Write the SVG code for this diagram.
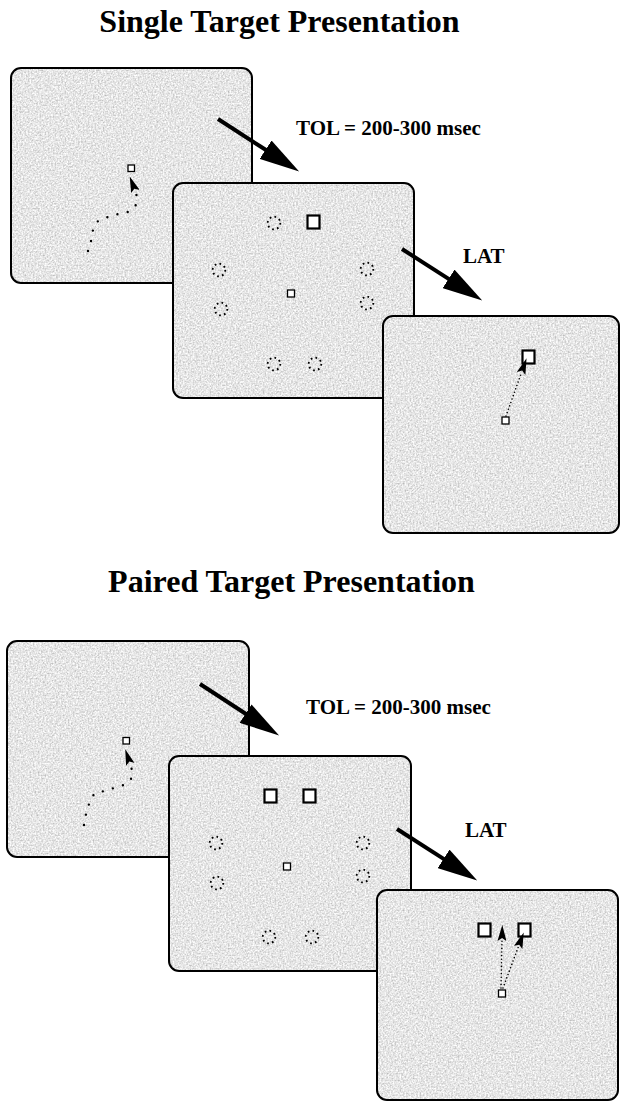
<svg xmlns="http://www.w3.org/2000/svg" width="620" height="1101" viewBox="0 0 620 1101">
<style>
  .title{font-family:"Liberation Serif","Times New Roman",serif;font-weight:bold;font-size:32px;fill:#000;text-anchor:middle}
  .lbl{font-family:"Liberation Serif","Times New Roman",serif;font-weight:bold;font-size:21px;fill:#000}
  .bg{fill:#cfcfcf;filter:url(#tex)}
  .frame{fill:none;stroke:#000;stroke-width:2}
  .fix{fill:#fff;stroke:#000;stroke-width:1.3}
  .tgt{fill:#fff;stroke:#000;stroke-width:2.2}
  .dis{fill:none;stroke:#000;stroke-width:1.8;stroke-dasharray:1.7 3.2}
  .big{stroke:#000;stroke-width:4;fill:none;marker-end:url(#bighead)}
  .sparse{stroke:#000;stroke-width:2.4;fill:none;stroke-linecap:round;stroke-dasharray:0 10.5;marker-end:url(#smallhead)}
  .dense{stroke:#000;stroke-width:1.6;fill:none;stroke-linecap:round;stroke-dasharray:0 3.6;marker-end:url(#smallhead)}
</style>
<defs>
  <filter id="tex" x="0" y="0" width="1" height="1" filterUnits="objectBoundingBox">
    <feTurbulence type="fractalNoise" baseFrequency="0.6" numOctaves="2" seed="4" result="n"/>
    <feColorMatrix in="n" type="matrix" values="0.8 0 0 0 0.39  0.8 0 0 0 0.39  0.8 0 0 0 0.39  0 0 0 0 1" result="g"/>
    <feComposite in="g" in2="SourceGraphic" operator="in"/>
  </filter>
  <marker id="bighead" viewBox="0 -11 40 22" markerWidth="40" markerHeight="22" refX="1" refY="0" markerUnits="userSpaceOnUse" orient="auto">
    <path d="M0,-11 L40,0 L0,11 z" fill="#000"/>
  </marker>
  <marker id="smallhead" viewBox="0 -4.5 16 9" markerWidth="16" markerHeight="9" refX="1" refY="0" markerUnits="userSpaceOnUse" orient="auto">
    <path d="M0,-4.5 L16,0 L0,4.5 L3,0 z" fill="#000"/>
  </marker>
</defs>
<rect width="620" height="1101" fill="#fff"/>

<g id="title-single"><text class="title" x="279.5" y="32">Single Target Presentation</text></g>

<g id="single-fixation">
  <rect class="bg" x="11" y="68" width="241" height="215" rx="10"/>
  <rect class="frame" x="11" y="68" width="241" height="215" rx="10"/>
  <rect class="fix" x="128" y="165" width="6.5" height="6.5"/>
  <polyline class="sparse" points="88,251 91,241 93,230 98,221 108,217 118,214 128,212 136,205 136.5,194.5 135,190.5"/>
</g>

<g id="single-display">
  <rect class="bg" x="173" y="183" width="241" height="215" rx="10"/>
  <rect class="frame" x="173" y="183" width="241" height="215" rx="10"/>
  <circle class="dis" cx="274" cy="223" r="6.3"/>
  <circle class="dis" cx="219" cy="270" r="6.3"/>
  <circle class="dis" cx="367" cy="269" r="6.3"/>
  <circle class="dis" cx="221" cy="309" r="6.3"/>
  <circle class="dis" cx="367" cy="303" r="6.3"/>
  <circle class="dis" cx="274" cy="364" r="6.3"/>
  <circle class="dis" cx="315" cy="364" r="6.3"/>
  <rect class="tgt" x="307.5" y="215.5" width="12" height="13"/>
  <rect class="fix" x="287.5" y="290" width="7" height="7"/>
</g>

<g id="single-response">
  <rect class="bg" x="383" y="316" width="236" height="217" rx="10"/>
  <rect class="frame" x="383" y="316" width="236" height="217" rx="10"/>
  <rect class="tgt" x="522.5" y="350.5" width="12" height="13"/>
  <rect class="fix" x="502" y="417" width="7" height="7"/>
  <polyline class="dense" points="506,416 521.5,372.5"/>
</g>

<g id="label-tol-single"><text class="lbl" x="296" y="135">TOL = 200-300 msec</text></g>
<g id="label-lat-single"><text class="lbl" x="463" y="263">LAT</text></g>

<g id="title-paired"><text class="title" x="291.5" y="592">Paired Target Presentation</text></g>

<g id="paired-fixation">
  <rect class="bg" x="7" y="641" width="242" height="216" rx="10"/>
  <rect class="frame" x="7" y="641" width="242" height="216" rx="10"/>
  <rect class="fix" x="123" y="737.5" width="6.5" height="6.5"/>
  <polyline class="sparse" points="84,825 86,814 89,804 94,794 104,791 114,788 124,785 132,778 131.5,768 130,763.5"/>
</g>

<g id="paired-display">
  <rect class="bg" x="169" y="756" width="242" height="215" rx="10"/>
  <rect class="frame" x="169" y="756" width="242" height="215" rx="10"/>
  <circle class="dis" cx="216" cy="843" r="6.3"/>
  <circle class="dis" cx="363" cy="843" r="6.3"/>
  <circle class="dis" cx="217" cy="883" r="6.3"/>
  <circle class="dis" cx="363" cy="876" r="6.3"/>
  <circle class="dis" cx="269" cy="937" r="6.3"/>
  <circle class="dis" cx="312" cy="937" r="6.3"/>
  <rect class="tgt" x="264.5" y="789.5" width="12" height="13"/>
  <rect class="tgt" x="303.5" y="789.5" width="12" height="13"/>
  <rect class="fix" x="283.5" y="863" width="7" height="7"/>
</g>

<g id="paired-response">
  <rect class="bg" x="377" y="890" width="241" height="210" rx="10"/>
  <rect class="frame" x="377" y="890" width="241" height="210" rx="10"/>
  <rect class="tgt" x="478.5" y="923.5" width="12" height="13"/>
  <rect class="tgt" x="518.5" y="923.5" width="12" height="13"/>
  <rect class="fix" x="498.5" y="990" width="7" height="7"/>
  <polyline class="dense" points="501,988 502,940"/>
  <polyline class="dense" points="503,988 518.5,946.5"/>
</g>

<g id="label-tol-paired"><text class="lbl" x="306" y="714">TOL = 200-300 msec</text></g>
<g id="label-lat-paired"><text class="lbl" x="465" y="837">LAT</text></g>

<g id="connectors">
  <line class="big" x1="218" y1="119" x2="266.4" y2="150.3"/>
  <line class="big" x1="402" y1="249" x2="449.4" y2="279.4"/>
  <line class="big" x1="200" y1="684" x2="246.4" y2="714.2"/>
  <line class="big" x1="397" y1="829" x2="444.4" y2="859.4"/>
</g>
</svg>
